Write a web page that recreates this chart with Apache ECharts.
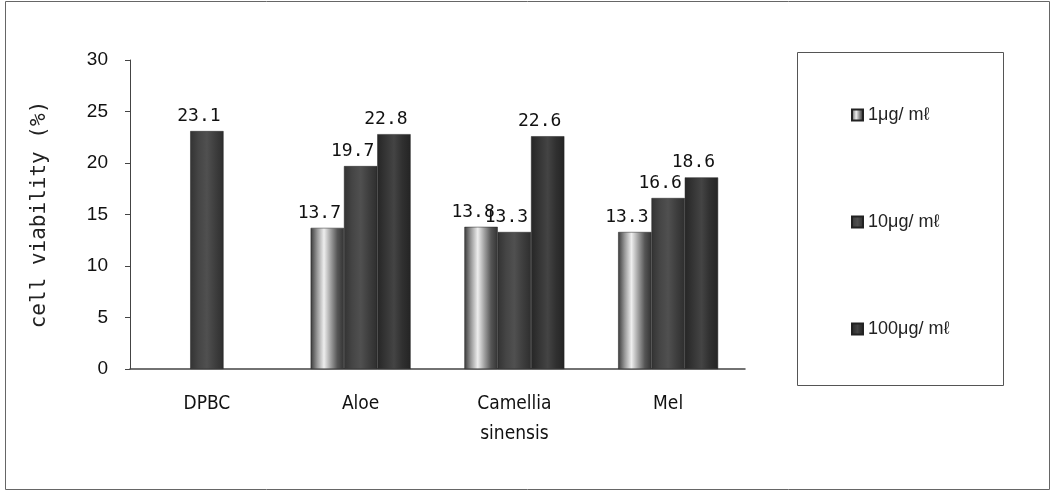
<!DOCTYPE html>
<html>
<head>
<meta charset="utf-8">
<script src="https://cdn.jsdelivr.net/npm/echarts@6/dist/echarts.min.js"></script>
<style>
  html, body { margin: 0; padding: 0; background: #fff; }
  #chart { width: 1055px; height: 492px; }
</style>
</head>
<body>
<div id="chart"></div>
<script>
// 类目
var categories = ['DPBC', 'Aloe', 'Camellia\nsinensis', 'Mel']
// 系列名
var seriesNames = ['1\u03bcg/ m\u2113', '10\u03bcg/ m\u2113', '100\u03bcg/ m\u2113']
// 数据 (DPBC only has one bar, drawn in the middle slot)
var dose1 = [null, 13.7, 13.8, 13.3]
var dose10 = [23.1, 19.7, 13.3, 16.6]
var dose100 = [null, 22.8, 22.6, 18.6]
// y轴刻度
var yTicks = [0, 5, 10, 15, 20, 25, 30]

var chart = echarts.init(document.getElementById('chart'))

function grad (stops) {
  return new echarts.graphic.LinearGradient(0, 0, 1, 0, stops.map(function (c, i) {
    return { offset: i / (stops.length - 1), color: c }
  }))
}

var fills = [
  grad(['#3a3a3a', '#9a9a9a', '#eeeeee', '#a0a0a0', '#555555', '#333333']),
  grad(['#333333', '#454545', '#505050', '#3e3e3e', '#2e2e2e']),
  grad(['#262626', '#353535', '#444444', '#303030', '#242424'])
]
var data = [dose1, dose10, dose100]

var labelStyle = {
  show: true,
  position: 'top',
  distance: 6,
  offset: [-8, 0],
  color: '#111',
  fontFamily: 'DejaVu Sans Mono',
  fontSize: 18
}

var option = {
  animation: false,
  backgroundColor: '#fff',
  textStyle: { fontFamily: 'Liberation Sans' },
  graphic: [
    // 外框
    { type: 'rect', shape: { x: 5.5, y: 1.5, width: 1044, height: 488 }, style: { fill: 'none', stroke: '#666', lineWidth: 1 }, silent: true },
    // 图例框
    { type: 'rect', shape: { x: 797.5, y: 52.5, width: 206, height: 333 }, style: { fill: 'none', stroke: '#555', lineWidth: 1 }, silent: true }
  ],
  legend: {
    orient: 'vertical',
    left: 846,
    top: 101,
    itemGap: 89,
    itemWidth: 11,
    itemHeight: 11,
    icon: 'rect',
    textStyle: { fontFamily: 'Liberation Sans', fontSize: 18, color: '#222', padding: [0, 0, 0, 0] },
    data: seriesNames
  },
  grid: { left: 130, right: 310, top: 60, bottom: 123 },
  xAxis: {
    type: 'category',
    data: categories,
    axisLine: { lineStyle: { color: '#444', width: 1.5 } },
    axisTick: { inside: true, length: 6, lineStyle: { color: '#555' } },
    axisLabel: {
      margin: 20,
      fontFamily: 'DejaVu Sans Condensed',
      fontSize: 19,
      lineHeight: 30,
      color: '#111'
    }
  },
  yAxis: {
    type: 'value',
    min: yTicks[0],
    max: yTicks[yTicks.length - 1],
    interval: 5,
    name: 'cell viability (%)',
    nameLocation: 'middle',
    nameGap: 80,
    nameTextStyle: { fontFamily: 'DejaVu Sans Mono', fontSize: 21, color: '#222' },
    axisLine: { show: true, lineStyle: { color: '#444', width: 1 } },
    axisTick: { show: true, length: 5, lineStyle: { color: '#444' } },
    splitLine: { show: false },
    axisLabel: { margin: 22, fontFamily: 'Liberation Sans', fontSize: 19, color: '#111' }
  },
  series: seriesNames.map(function (name, i) {
    return {
      name: name,
      type: 'bar',
      data: data[i],
      barGap: '0%',
      barCategoryGap: '35%',
      itemStyle: { color: fills[i], borderColor: '#222', borderWidth: 0.5 },
      label: labelStyle
    }
  })
}

chart.setOption(option)
</script>
</body>
</html>
